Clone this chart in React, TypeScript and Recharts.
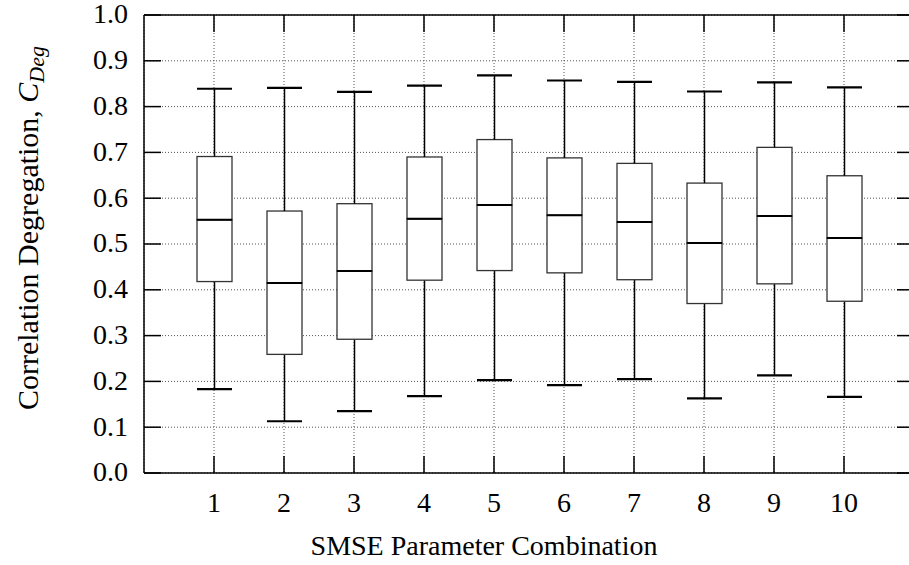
import React from "react";
import { ComposedChart, Bar, XAxis, YAxis, CartesianGrid } from "recharts";

const combos = ["1", "2", "3", "4", "5", "6", "7", "8", "9", "10"];
const whiskerLow = [0.183, 0.113, 0.135, 0.168, 0.203, 0.192, 0.205, 0.163, 0.213, 0.166];
const quartileLow = [0.418, 0.259, 0.292, 0.421, 0.442, 0.437, 0.422, 0.37, 0.413, 0.375];
const medians = [0.553, 0.415, 0.441, 0.555, 0.585, 0.563, 0.548, 0.502, 0.561, 0.513];
const quartileHigh = [0.691, 0.572, 0.588, 0.69, 0.728, 0.688, 0.676, 0.633, 0.711, 0.649];
const whiskerHigh = [0.839, 0.841, 0.832, 0.846, 0.868, 0.857, 0.854, 0.833, 0.853, 0.842];
const yTicks = [0, 0.1, 0.2, 0.3, 0.4, 0.5, 0.6, 0.7, 0.8, 0.9, 1.0];

const FONT = "Liberation Serif, DejaVu Serif, serif";

// plot frame (chart margins + axis sizes below); the right edge sits just past the window
const TOP = 14;
const LEFT_W = 144;
const RIGHT_W = 16;
const CHART_W = 930;
const PLOT_TOP = TOP + 1;
const PLOT_RIGHT = CHART_W - RIGHT_W;
const TICK = 17;

// stacked segments: base -> lower whisker -> lower box -> upper box -> upper whisker
const rows = combos.map((name, i) => ({
  name,
  base: whiskerLow[i],
  lw: quartileLow[i] - whiskerLow[i],
  lb: medians[i] - quartileLow[i],
  ub: quartileHigh[i] - medians[i],
  uw: whiskerHigh[i] - quartileHigh[i],
}));

function LowWhisker(p: any) {
  const cx = p.x + p.width / 2;
  const bot = p.y + p.height;
  return (
    <g>
      <line x1={cx} x2={cx} y1={p.y} y2={bot} stroke="#000" strokeWidth={1.5} />
      <line x1={p.x} x2={p.x + p.width} y1={bot} y2={bot} stroke="#000" strokeWidth={2.2} />
    </g>
  );
}

function HighWhisker(p: any) {
  const cx = p.x + p.width / 2;
  return (
    <g>
      <line x1={cx} x2={cx} y1={p.y} y2={p.y + p.height} stroke="#000" strokeWidth={1.5} />
      <line x1={p.x} x2={p.x + p.width} y1={p.y} y2={p.y} stroke="#000" strokeWidth={2.2} />
    </g>
  );
}

function LowBox(p: any) {
  return <rect x={p.x} y={p.y} width={p.width} height={p.height} fill="#fff" stroke="#333" strokeWidth={1.3} />;
}

function HighBox(p: any) {
  const bot = p.y + p.height;
  return (
    <g>
      <rect x={p.x} y={p.y} width={p.width} height={p.height} fill="#fff" stroke="#333" strokeWidth={1.3} />
      <line x1={p.x} x2={p.x + p.width} y1={bot} y2={bot} stroke="#000" strokeWidth={2} />
    </g>
  );
}

// left label + mirrored tick on the right edge
function YTick(p: any) {
  return (
    <g>
      <line x1={PLOT_RIGHT - TICK} x2={PLOT_RIGHT} y1={p.y} y2={p.y} stroke="#000" strokeWidth={1.5} />
      <text x={p.x} y={p.y} dy="0.3em" textAnchor="end" fill="#000" fontSize={28} fontFamily={FONT} style={{ fontFamily: FONT }}>
        {Number(p.payload.value).toFixed(1)}
      </text>
    </g>
  );
}

// bottom label + mirrored tick on the top edge
function XTick(p: any) {
  return (
    <g>
      <line x1={p.x} x2={p.x} y1={PLOT_TOP} y2={PLOT_TOP + TICK} stroke="#000" strokeWidth={1.5} />
      <text x={p.x} y={p.y} dy="0.71em" textAnchor="middle" fill="#000" fontSize={28} fontFamily={FONT} style={{ fontFamily: FONT }}>
        {p.payload.value}
      </text>
    </g>
  );
}

function YTitle() {
  return (
    <text
      transform="translate(38,228) rotate(-90)"
      textAnchor="middle"
      fontFamily={FONT}
      style={{ fontFamily: FONT }}
      fontSize={30}
      fill="#000"
    >
      {"Correlation Degregation, "}
      <tspan fontStyle="italic">C</tspan>
      <tspan fontStyle="italic" fontSize={22} dy={6}>Deg</tspan>
    </text>
  );
}

function XTitle() {
  return (
    <text x={484} y={555} textAnchor="middle" fontFamily={FONT} style={{ fontFamily: FONT }} fontSize={28} fill="#000">
      SMSE Parameter Combination
    </text>
  );
}

const frame = { stroke: "#000", strokeWidth: 1.5 };

export default function App() {
  return (
    <div style={{ position: "fixed", left: 0, top: 0, width: 909, height: 565, overflow: "hidden", background: "#fff", fontFamily: FONT }}>
      <ComposedChart width={CHART_W} height={565} data={rows} margin={{ top: TOP, right: 0, bottom: 0, left: 0 }}>
        <CartesianGrid stroke="#555" strokeDasharray="1 2" />
        <XAxis
          dataKey="name"
          type="category"
          interval={0}
          padding={{ left: 35, right: 35 }}
          height={92}
          tickSize={-TICK}
          tickMargin={36}
          tick={<XTick />}
          tickLine={frame}
          axisLine={frame}
          label={<XTitle />}
        />
        <XAxis
          xAxisId="top"
          orientation="top"
          dataKey="name"
          type="category"
          interval={0}
          padding={{ left: 35, right: 35 }}
          height={1}
          tick={false}
          tickLine={false}
          axisLine={frame}
        />
        <YAxis
          type="number"
          domain={[0, 1]}
          ticks={yTicks}
          interval={0}
          width={LEFT_W}
          tickSize={-TICK}
          tickMargin={33}
          tick={<YTick />}
          tickLine={frame}
          axisLine={frame}
          label={<YTitle />}
        />
        <YAxis
          yAxisId="right"
          orientation="right"
          type="number"
          domain={[0, 1]}
          ticks={yTicks}
          width={RIGHT_W}
          tick={false}
          tickLine={false}
          axisLine={frame}
        />
        <Bar dataKey="base" stackId="b" fill="none" barSize={35} isAnimationActive={false} />
        <Bar dataKey="lw" stackId="b" barSize={35} shape={LowWhisker} isAnimationActive={false} />
        <Bar dataKey="lb" stackId="b" barSize={35} shape={LowBox} isAnimationActive={false} />
        <Bar dataKey="ub" stackId="b" barSize={35} shape={HighBox} isAnimationActive={false} />
        <Bar dataKey="uw" stackId="b" barSize={35} shape={HighWhisker} isAnimationActive={false} />
      </ComposedChart>
    </div>
  );
}
